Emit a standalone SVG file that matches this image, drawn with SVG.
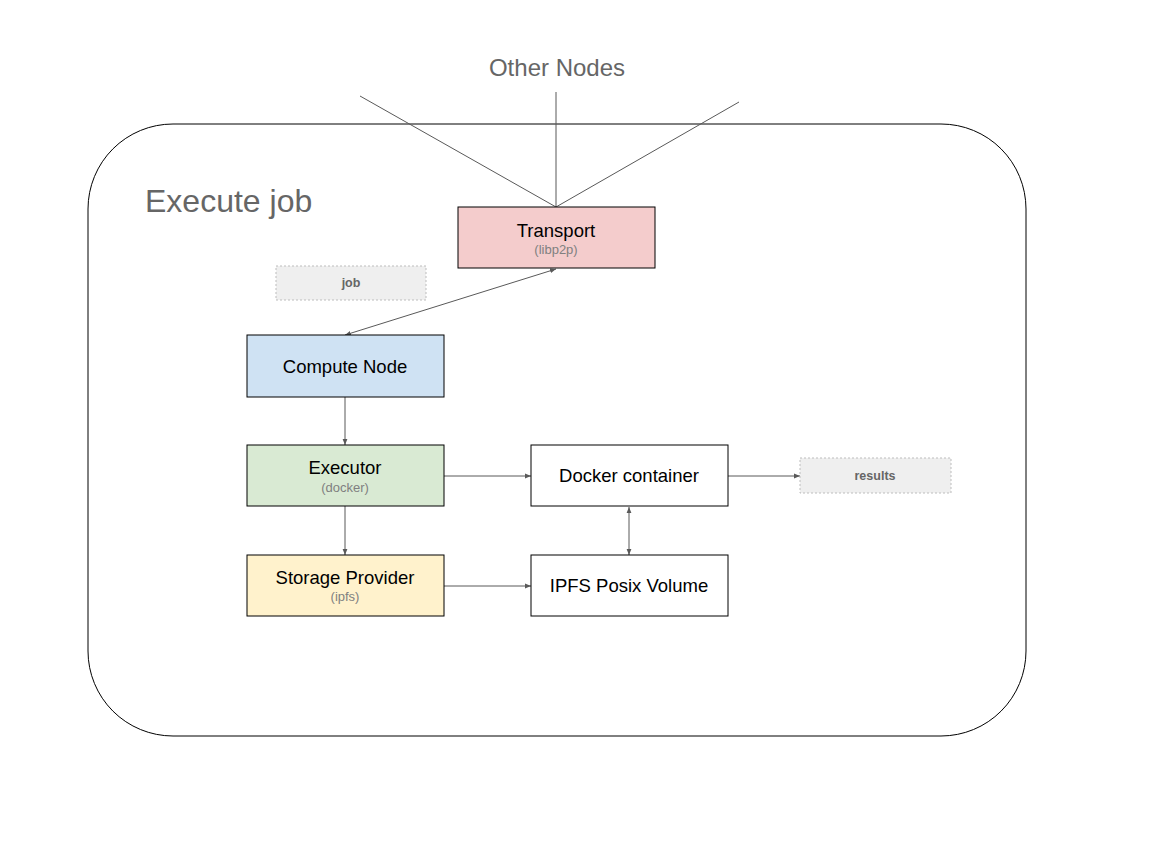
<svg xmlns="http://www.w3.org/2000/svg" width="1152" height="864" viewBox="0 0 1152 864">
<style>
.box{stroke:#000;stroke-width:1}
.t{font-family:"Liberation Sans",Arial,sans-serif;font-size:18.5px;fill:#000;text-anchor:middle}
.s{font-family:"Liberation Sans",Arial,sans-serif;font-size:13px;fill:#808080;text-anchor:middle}
.lbl{fill:#efefef;stroke:#bdbdbd;stroke-dasharray:2,2;stroke-width:1}
.lt{font-family:"Liberation Sans",Arial,sans-serif;font-size:12.5px;font-weight:bold;fill:#666;text-anchor:middle}
.c{stroke:#595959;stroke-width:1;fill:none}
</style>
<defs>
<marker id="ah" viewBox="0 0 10 10" refX="10" refY="5" markerWidth="6" markerHeight="6" orient="auto-start-reverse" markerUnits="userSpaceOnUse">
<path d="M0,1 L10,5 L0,9 z" fill="#595959"/>
</marker>
</defs>
<rect width="1152" height="864" fill="#fff"/>
<g id="frame">
<rect x="88" y="124" width="938" height="612" rx="85" ry="85" fill="#fff" stroke="#000" stroke-width="1"/>
<text x="145" y="212" font-family="Liberation Sans,Arial,sans-serif" font-size="32" fill="#666">Execute job</text>
</g>
<g id="other-nodes">
<text x="557" y="76" font-family="Liberation Sans,Arial,sans-serif" font-size="24" fill="#666" text-anchor="middle">Other Nodes</text>
</g>
<g id="connectors">
<line class="c" x1="360" y1="96" x2="556" y2="207"/>
<line class="c" x1="556" y1="92" x2="556" y2="207"/>
<line class="c" x1="739" y1="102" x2="556" y2="207"/>
<line class="c" x1="556" y1="269" x2="345" y2="335" marker-start="url(#ah)" marker-end="url(#ah)"/>
<line class="c" x1="345" y1="397" x2="345" y2="445" marker-end="url(#ah)"/>
<line class="c" x1="345" y1="506" x2="345" y2="555" marker-end="url(#ah)"/>
<line class="c" x1="444" y1="476" x2="531" y2="476" marker-end="url(#ah)"/>
<line class="c" x1="444" y1="586" x2="531" y2="586" marker-end="url(#ah)"/>
<line class="c" x1="629" y1="507" x2="629" y2="555" marker-start="url(#ah)" marker-end="url(#ah)"/>
<line class="c" x1="728" y1="476" x2="800" y2="476" marker-end="url(#ah)"/>
</g>
<g id="transport">
<rect class="box" x="458" y="207" width="197" height="61" fill="#f4cccc"/>
<text class="t" x="556" y="237">Transport</text>
<text class="s" x="556" y="254">(libp2p)</text>
</g>
<g id="job">
<rect class="lbl" x="276" y="266" width="150" height="34"/>
<text class="lt" x="351" y="287">job</text>
</g>
<g id="compute-node">
<rect class="box" x="247" y="335" width="197" height="62" fill="#cfe2f3"/>
<text class="t" x="345" y="373">Compute Node</text>
</g>
<g id="executor">
<rect class="box" x="247" y="445" width="197" height="61" fill="#d9ead3"/>
<text class="t" x="345" y="474">Executor</text>
<text class="s" x="345" y="492">(docker)</text>
</g>
<g id="storage-provider">
<rect class="box" x="247" y="555" width="197" height="61" fill="#fff2cc"/>
<text class="t" x="345" y="584">Storage Provider</text>
<text class="s" x="345" y="601">(ipfs)</text>
</g>
<g id="docker-container">
<rect class="box" x="531" y="445" width="197" height="61" fill="#fff"/>
<text class="t" x="629" y="482">Docker container</text>
</g>
<g id="ipfs-posix-volume">
<rect class="box" x="531" y="555" width="197" height="61" fill="#fff"/>
<text class="t" x="629" y="592">IPFS Posix Volume</text>
</g>
<g id="results">
<rect class="lbl" x="800" y="458" width="151" height="35"/>
<text class="lt" x="875" y="480">results</text>
</g>
</svg>
